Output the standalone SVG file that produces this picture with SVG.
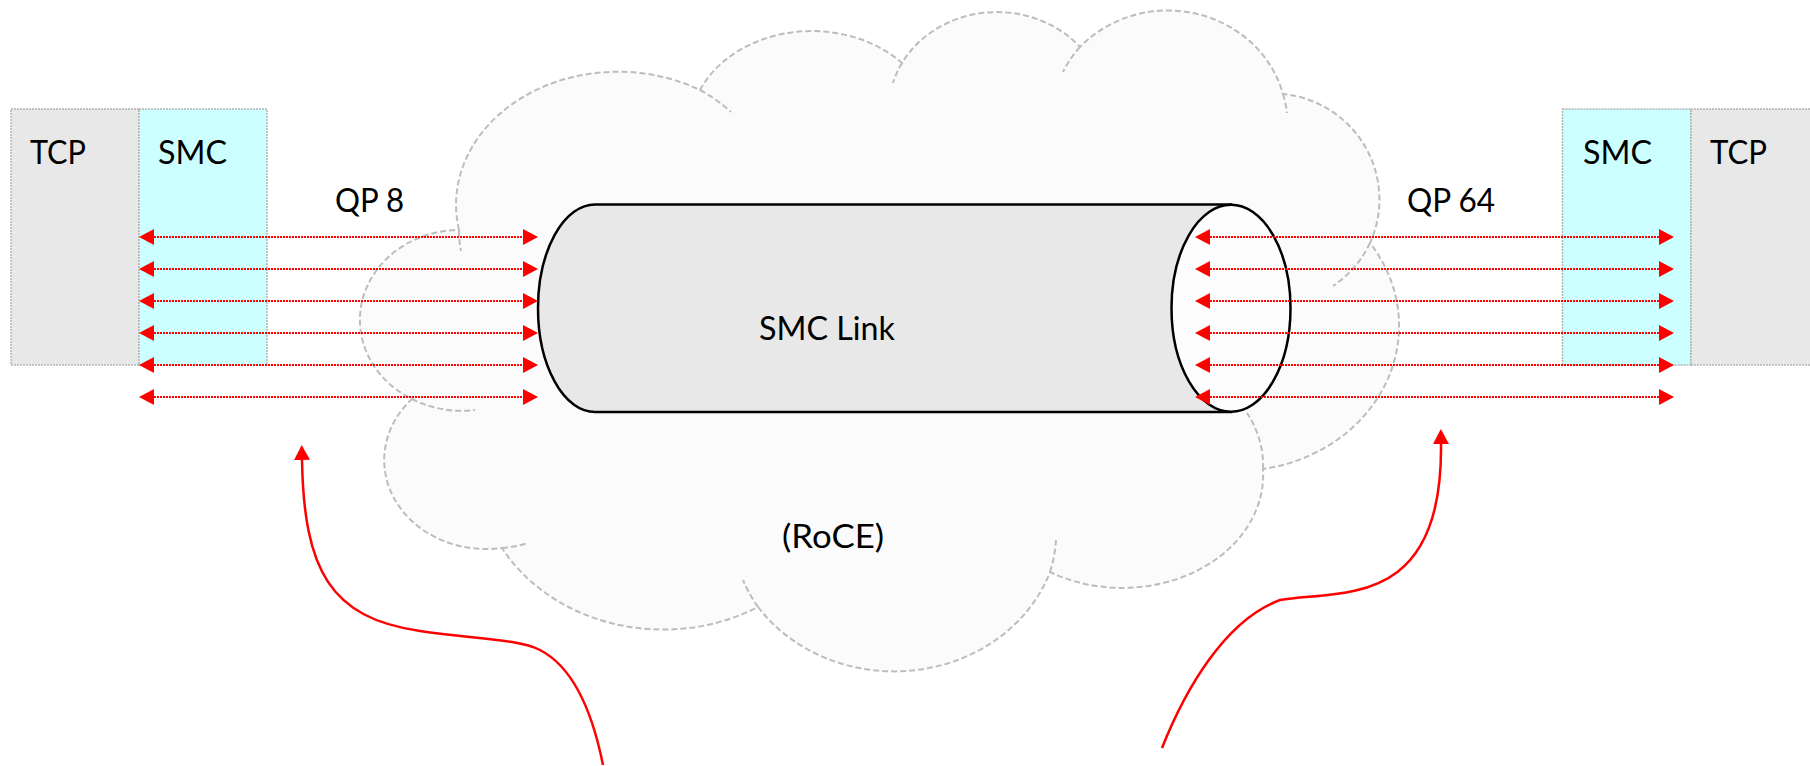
<svg xmlns="http://www.w3.org/2000/svg" width="1810" height="766" viewBox="0 0 1810 766">
<style>
.t{font-family:Lato,"Liberation Sans",sans-serif;font-size:33px;fill:#000}
.cloudfill{fill:#fbfbfb;stroke:#bdbdbd;stroke-width:2;stroke-dasharray:6 3}
.cloudline{fill:none;stroke:#bdbdbd;stroke-width:2;stroke-dasharray:6 3}
.tcp{fill:#e8e8e8;stroke:#b4b4b4;stroke-width:1.5;stroke-dasharray:2 1}
.smc{fill:#ccffff;stroke:#b4b4b4;stroke-width:1.5;stroke-dasharray:2 1}
.qp{fill:none;stroke:#ff0000;stroke-width:2;stroke-dasharray:2 1;marker-start:url(#ah);marker-end:url(#ah)}
.curve{fill:none;stroke:#ff0000;stroke-width:2.5;marker-end:url(#ah)}
</style>
<defs>
<marker id="ah" viewBox="0 0 15 16" refX="0" refY="8" markerUnits="userSpaceOnUse" markerWidth="15" markerHeight="16" orient="auto-start-reverse">
<path d="M0,0 L15,8 L0,16 Z" fill="#ff0000"/>
</marker>
</defs>
<rect width="1810" height="766" fill="#ffffff"/>

<g id="cloud">
<path class="cloudfill" d="M459,230 A162,133 0 0 1 700,90 A122,98 0 0 1 902,63 A108,97 0 0 1 1080,47 A119,112 0 0 1 1283,94 A107,106 0 0 1 1370,243 A162,145 0 0 1 1263,469 A141,113 0 0 1 1050,572 A165,148 0 0 1 758,607 A185,160 0 0 1 502,548 A102,89 0 0 1 412,399 A100,90 0 0 1 459,230 Z"/>
<path class="cloudline" d="M459,230 A162,133 0 0 0 461,251"/>
<path class="cloudline" d="M700,90 A162,133 0 0 1 731,112"/>
<path class="cloudline" d="M902,63 A108,97 0 0 0 893,83"/>
<path class="cloudline" d="M1080,47 A119,112 0 0 0 1063,72"/>
<path class="cloudline" d="M1283,94 A119,112 0 0 1 1287,113"/>
<path class="cloudline" d="M1370,243 A107,106 0 0 1 1333,286"/>
<path class="cloudline" d="M1263,469 A141,113 0 0 0 1247,413"/>
<path class="cloudline" d="M1050,572 A165,148 0 0 0 1056,540"/>
<path class="cloudline" d="M758,607 A165,148 0 0 1 743,580"/>
<path class="cloudline" d="M502,548 A102,89 0 0 0 528,543"/>
<path class="cloudline" d="M412,399 A100,90 0 0 0 475,410"/>
<text class="t" x="782" y="548" textLength="102" lengthAdjust="spacingAndGlyphs">(RoCE)</text>
</g>

<g id="tcp-left">
<rect class="tcp" x="11" y="109" width="128" height="256"/>
<text class="t" x="30" y="164" textLength="56" lengthAdjust="spacingAndGlyphs">TCP</text>
</g>
<g id="smc-left">
<rect class="smc" x="139" y="109" width="128" height="256"/>
<text class="t" x="158" y="164" textLength="69" lengthAdjust="spacingAndGlyphs">SMC</text>
</g>
<g id="smc-right">
<rect class="smc" x="1562.5" y="109" width="128.5" height="256"/>
<text class="t" x="1583" y="164" textLength="69" lengthAdjust="spacingAndGlyphs">SMC</text>
</g>
<g id="tcp-right">
<rect class="tcp" x="1691" y="109" width="125" height="256"/>
<text class="t" x="1710" y="164" textLength="57" lengthAdjust="spacingAndGlyphs">TCP</text>
</g>

<g id="smc-link">
<path d="M595,204.5 H1231 V412 H595 A57,103.75 0 0 1 595,204.5 Z" fill="#e8e8e8" stroke="#000" stroke-width="2.5"/>
<ellipse cx="1231" cy="308.3" rx="59.5" ry="103.5" fill="#fdfdfd" stroke="#000" stroke-width="2.5"/>
<text class="t" x="759" y="340" textLength="136" lengthAdjust="spacingAndGlyphs">SMC Link</text>
</g>

<g id="qp-labels">
<text class="t" x="335" y="212" textLength="69" lengthAdjust="spacingAndGlyphs">QP 8</text>
<text class="t" x="1407" y="212" textLength="88" lengthAdjust="spacingAndGlyphs">QP 64</text>
</g>

<g id="connectors">
<line class="qp" x1="154" y1="237" x2="523" y2="237"/>
<line class="qp" x1="154" y1="269" x2="523" y2="269"/>
<line class="qp" x1="154" y1="301" x2="523" y2="301"/>
<line class="qp" x1="154" y1="333" x2="523" y2="333"/>
<line class="qp" x1="154" y1="365" x2="523" y2="365"/>
<line class="qp" x1="154" y1="397" x2="523" y2="397"/>
<line class="qp" x1="1210" y1="237" x2="1659" y2="237"/>
<line class="qp" x1="1210" y1="269" x2="1659" y2="269"/>
<line class="qp" x1="1210" y1="301" x2="1659" y2="301"/>
<line class="qp" x1="1210" y1="333" x2="1659" y2="333"/>
<line class="qp" x1="1210" y1="365" x2="1659" y2="365"/>
<line class="qp" x1="1210" y1="397" x2="1659" y2="397"/>
<path class="curve" d="M603,765 C590,700 567,664 540,650 C519,639 474,639 420,631 C330,618 304,570 302,460"/>
<path class="curve" d="M1162,748 C1185,690 1225,620 1280,600 C1340,590 1443,610 1441,444"/>
</g>
</svg>
